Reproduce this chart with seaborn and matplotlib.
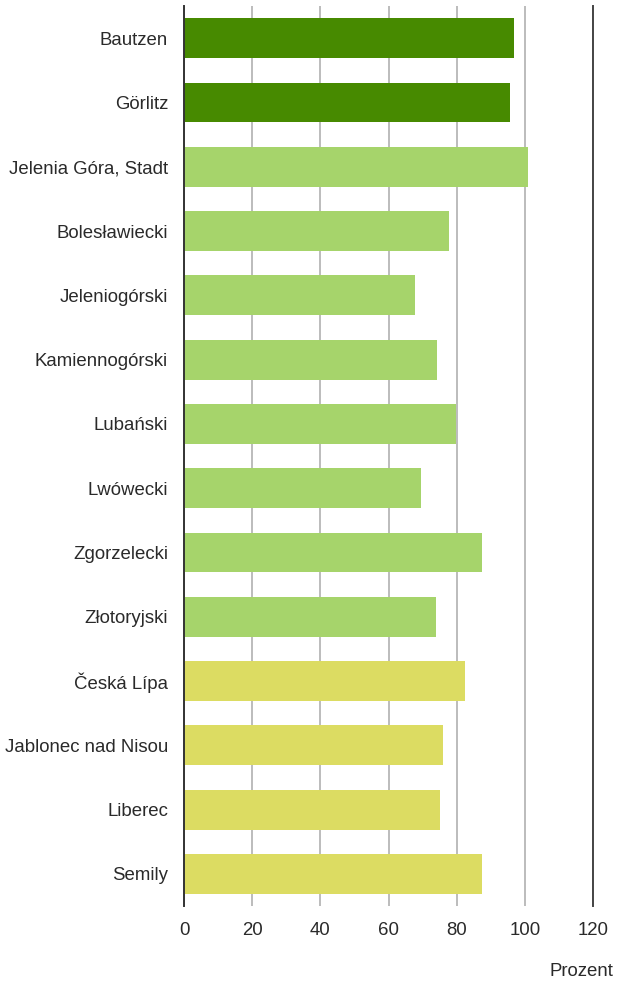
import matplotlib
matplotlib.use("Agg")
import matplotlib.pyplot as plt
import pandas as pd
import seaborn as sns

# Data
regions = [
    "Bautzen", "Görlitz", "Jelenia Góra, Stadt", "Bolesławiecki",
    "Jeleniogórski", "Kamiennogórski", "Lubański", "Lwówecki",
    "Zgorzelecki", "Złotoryjski", "Česká Lípa", "Jablonec nad Nisou",
    "Liberec", "Semily",
]
values = [96.8, 95.6, 100.9, 77.7, 67.7, 74.2, 79.8, 69.5, 87.4, 73.9,
          82.4, 76.0, 75.1, 87.4]
countries = ["DE", "DE", "PL", "PL", "PL", "PL", "PL", "PL", "PL", "PL",
             "CZ", "CZ", "CZ", "CZ"]
x_ticks = [0, 20, 40, 60, 80, 100, 120]

palette = {"DE": "#478a00", "PL": "#a6d46b", "CZ": "#dcdc62"}
text_color = "#2a2a2a"
font_size = 13.4

df = pd.DataFrame({"region": regions, "value": values, "country": countries})

sns.set_theme(style="white")
plt.rcParams["font.family"] = ["Liberation Sans", "DejaVu Sans"]

fig = plt.figure(figsize=(6.2, 9.82), dpi=100)
ax = fig.add_axes([184 / 620, 1 - 906 / 982, (593.3 - 184) / 620, 900 / 982])

sns.barplot(
    data=df, x="value", y="region", hue="country", palette=palette,
    orient="h", dodge=False, legend=False, width=0.62, saturation=1,
    linewidth=0, ax=ax,
)

ax.set_xlim(0, 120)
ax.set_ylim(len(regions) - 0.5, -0.5)
ax.set_xticks(x_ticks)
ax.set_axisbelow(True)
ax.grid(axis="x", color="#aaaaaa", linewidth=1.1)
ax.grid(axis="y", visible=False)

for side in ["top", "bottom"]:
    ax.spines[side].set_visible(False)
ax.spines["left"].set_color("#333333")
ax.spines["left"].set_linewidth(1.4)
ax.spines["right"].set_color("#444444")
ax.spines["right"].set_linewidth(1.4)

ax.tick_params(axis="y", length=0, pad=11.5, labelsize=font_size, labelcolor=text_color)
ax.tick_params(axis="x", length=0, pad=11.5, labelsize=font_size, labelcolor=text_color)
ax.set_xlabel("")
ax.set_ylabel("")

fig.text(613 / 620, 1 - 972 / 982, "Prozent", ha="right", va="center",
         fontsize=font_size, color=text_color)

fig.savefig("out.png", dpi=100)
